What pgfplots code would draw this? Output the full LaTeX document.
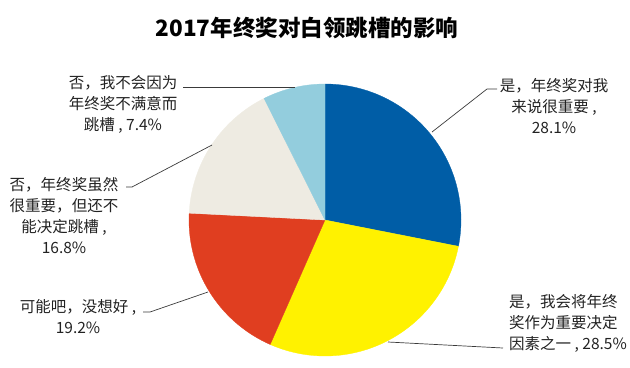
\documentclass[border=0pt]{standalone}
\usepackage{pgfplots}
\usepackage{pgfplotstable}
\pgfplotsset{compat=1.18}
\usepackage{fontspec}
\setmainfont{Noto Sans CJK SC}
\definecolor{c0}{HTML}{005DA6}
\definecolor{c1}{HTML}{FFF200}
\definecolor{c2}{HTML}{E03E20}
\definecolor{c3}{HTML}{EEEBE2}
\definecolor{c4}{HTML}{93CDDD}
\definecolor{txt}{HTML}{222222}
\definecolor{lead}{HTML}{3A3A3A}

\pgfplotstableread{
pct
28.1
28.5
19.2
16.8
7.4
}\piedata

\begin{document}
\begin{tikzpicture}
\begin{axis}[
  width=630bp, height=367bp, scale only axis,
  xmin=0, xmax=630, ymin=0, ymax=367, y dir=reverse,
  hide axis, clip=false,
]
\gdef\cum{0}
\pgfplotsinvokeforeach{0,...,4}{
  \pgfplotstablegetelem{#1}{pct}\of\piedata
  \pgfmathsetmacro\nxt{\cum+\pgfplotsretval}
  \edef\doslice{\noexpand\addplot[fill=c#1, draw=c#1, line width=0.3pt,
     domain={90-3.6*\cum}:{90-3.6*\nxt}, samples=90, variable=\noexpand\t]
     ({325+136*cos(\noexpand\t)},{220-136*sin(\noexpand\t)}) -- (325,220) -- cycle;}
  \doslice
  \global\let\cum\nxt
}
% leader lines
\addplot[lead, line width=0.7pt] coordinates {(432,132) (487,89) (497,89)};
\addplot[lead, line width=0.7pt] coordinates {(388,342) (503,348)};
\addplot[lead, line width=0.7pt] coordinates {(208,292) (150,312) (143,312)};
\addplot[lead, line width=0.7pt] coordinates {(212,145) (132,187) (126,187)};
\addplot[lead, line width=0.7pt] coordinates {(183,87) (295,87)};
% labels
\begin{scope}[every node/.style={text=txt, font=\fontsize{15.5bp}{21bp}\selectfont, inner sep=0pt}]
\node[align=center] at (554,106) {是，年终奖对我\\来说很重要 ,\\28.1\%};
\node[align=left, anchor=west] at (509,323) {是，我会将年终\\奖作为重要决定\\因素之一 , 28.5\%};
\node[align=center] at (78,317) {可能吧，没想好 ,\\19.2\%};
\node[align=center] at (64,216) {否，年终奖虽然\\很重要，但还不\\能决定跳槽 ,\\16.8\%};
\node[align=center] at (123,104) {否，我不会因为\\年终奖不满意而\\跳槽 , 7.4\%};
\end{scope}
\node[font=\fontsize{22.5bp}{26bp}\selectfont\bfseries, text=black, inner sep=0pt] at (307,28) {2017年终奖对白领跳槽的影响};
\end{axis}
\pgfresetboundingbox
\path (current axis.south west) rectangle (current axis.north east);
\end{tikzpicture}
\end{document}
